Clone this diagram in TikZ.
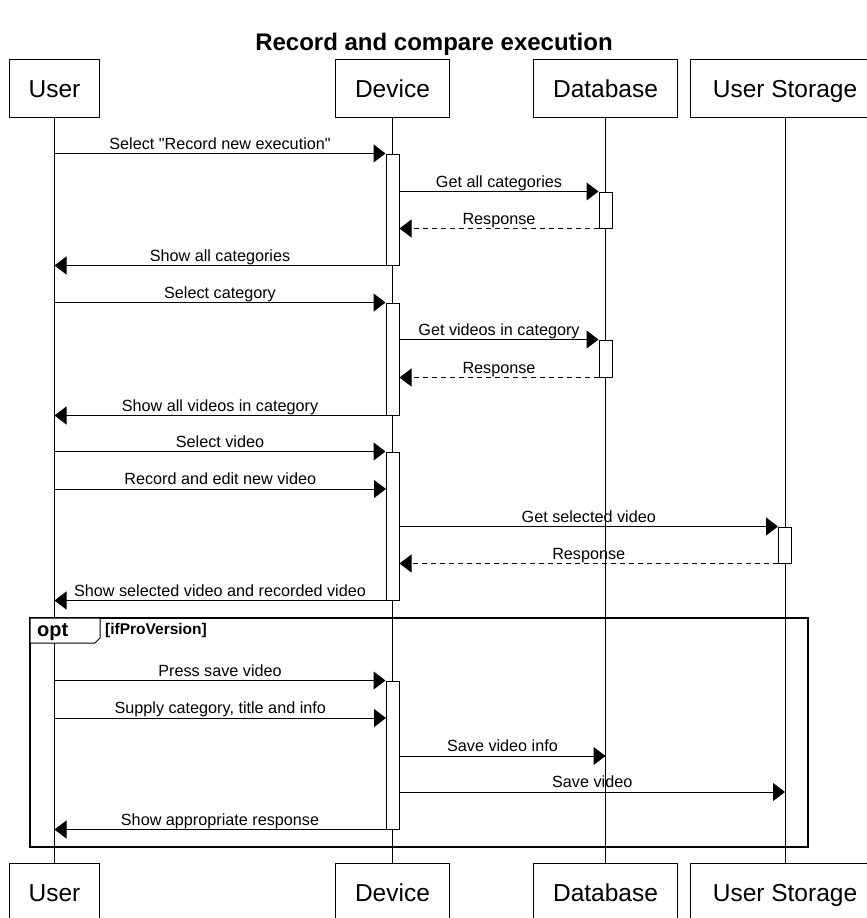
\documentclass[tikz,border=0pt]{standalone}
\usepackage{fontspec}
\setmainfont{Liberation Sans}[Ligatures=TeXOff]
\usetikzlibrary{arrows.meta,positioning}
\tikzset{>={Triangle[length=12pt,width=18pt]}}
\tikzset{actor/.style={shape=rectangle, draw, fill=white, line width=1pt,
    minimum height=58pt, inner xsep=19.5pt, text height=18pt, text depth=0pt,
    font=\fontsize{24.5}{29}\selectfont}}
\tikzset{act/.style={shape=rectangle, draw, fill=white, line width=1pt,
    minimum width=13pt, inner sep=0pt}}
\tikzset{msg/.style={->, line width=1pt}}
\tikzset{reply/.style={->, line width=1pt, dash pattern=on 5pt off 4pt}}
\tikzset{txt/.style={anchor=base, yshift=4.5pt, inner sep=0pt, font=\fontsize{16.2}{19}\selectfont}}

\begin{document}
\begin{tikzpicture}[x=1pt, y=-1pt]
  \useasboundingbox (0,0) rectangle (867,918);
  \clip (0,0) rectangle (867,918);

    \node(title) at (434,50) [anchor=base, font=\fontsize{24}{29}\bfseries] {Record and compare execution};

    %%%% Participants
    \node[actor](uT) at (54.5,88)                        {User};
    \node[actor](dT) at (392.5,88)                       {Device};
    \node[actor](bT) at (605.5,88)                       {Database};
    \node[actor](sT) at (785,88) [minimum width=190pt]   {User Storage};

    \node[actor](uB) at (54.5,892)                       {User};
    \node[actor](dB) at (392.5,892)                      {Device};
    \node[actor](bB) at (605.5,892)                      {Database};
    \node[actor](sB) at (785,892) [minimum width=190pt]  {User Storage};

    %%%% Lifelines
    \draw [line width=1pt] (uT) -- (uB);
    \draw [line width=1pt] (dT) -- (dB);
    \draw [line width=1pt] (bT) -- (bB);
    \draw [line width=1pt] (sT) -- (sB);

    %%%% opt fragment
    \node(frame) at (419,732.5) [draw, line width=1.5pt, outer sep=0pt,
        minimum width=778pt, minimum height=229pt] {};
    \draw [line width=1pt, fill=white] (frame.north west) -- ++(70,0) -- ++(0,20)
        -- ++(-5,5) -- ++(-65,0) -- cycle;
    \node(optlbl) at (37,636.5) [anchor=base west, inner sep=0pt,
        font=\fontsize{20}{24}\bfseries] {opt};
    \node(guard) at (105,634.5) [anchor=base west, inner sep=0pt,
        font=\fontsize{15.5}{19}\bfseries] {[ifProVersion]};

    %%%% Activations
    \node[act, minimum height=111pt](a1) at (392.5,209.5) {};
    \node[act, minimum height=36pt](b1)  at (605.5,210)   {};
    \node[act, minimum height=112pt](a2) at (392.5,359)   {};
    \node[act, minimum height=37pt](b2)  at (605.5,358.5) {};
    \node[act, minimum height=148pt](a3) at (392.5,526)   {};
    \node[act, minimum height=36pt](s1)  at (785,545)     {};
    \node[act, minimum height=148pt](a4) at (392.5,755)   {};

    \coordinate (rec)     at (386,489);
    \coordinate (supply)  at (386,718);
    \coordinate (svinfo)  at (605.5,756);
    \coordinate (svvideo) at (785,792);

    %%%% Choose category
    \draw [msg] (uT |- a1.north) to node[txt] {Select "Record new execution"} (a1.north west);
    \draw [msg] (a1.east |- b1.north) to node[txt] {Get all categories} (b1.north west);
    \draw [reply] (b1.south west) to node[txt] {Response} (a1.east |- b1.south);
    \draw [msg] (a1.south west) to node[txt] {Show all categories} (uT |- a1.south);

    %%%% Choose video
    \draw [msg] (uT |- a2.north) to node[txt] {Select category} (a2.north west);
    \draw [msg] (a2.east |- b2.north) to node[txt] {Get videos in category} (b2.north west);
    \draw [reply] (b2.south west) to node[txt] {Response} (a2.east |- b2.south);
    \draw [msg] (a2.south west) to node[txt] {Show all videos in category} (uT |- a2.south);

    %%%% Record and compare
    \draw [msg] (uT |- a3.north) to node[txt] {Select video} (a3.north west);
    \draw [msg] (uT |- rec) to node[txt] {Record and edit new video} (rec);
    \draw [msg] (a3.east |- s1.north) to node[txt] {Get selected video} (s1.north west);
    \draw [reply] (s1.south west) to node[txt] {Response} (a3.east |- s1.south);
    \draw [msg] (a3.south west) to node[txt] {Show selected video and recorded video} (uT |- a3.south);

    %%%% Save (pro version)
    \draw [msg] (uT |- a4.north) to node[txt] {Press save video} (a4.north west);
    \draw [msg] (uT |- supply) to node[txt] {Supply category, title and info} (supply);
    \draw [msg] (a4.east |- svinfo) to node[txt] {Save video info} (svinfo);
    \draw [msg] (a4.east |- svvideo) to node[txt] {Save video} (svvideo);
    \draw [msg] (a4.south west) to node[txt] {Show appropriate response} (uT |- a4.south);

  \end{tikzpicture}
\end{document}
